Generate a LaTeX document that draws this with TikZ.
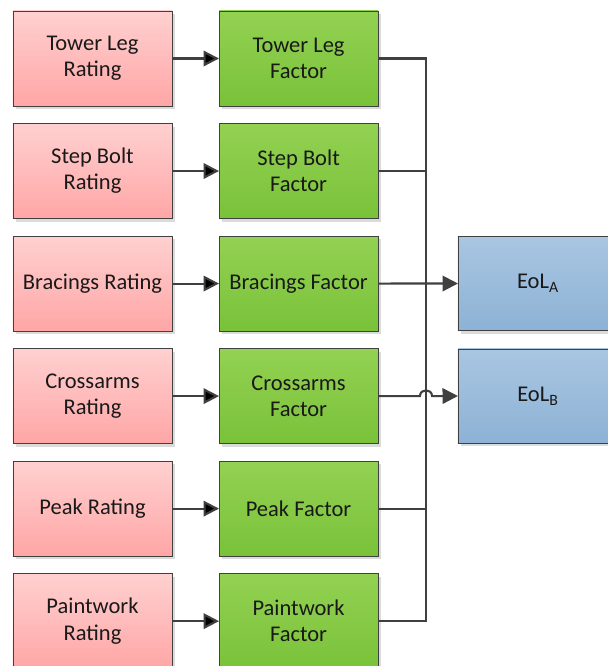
\documentclass[tikz,border=0pt]{standalone}
\usepackage{fontspec}
\setmainfont{Carlito}
\usetikzlibrary{positioning,arrows.meta,shadows}
\definecolor{edgegray}{HTML}{404040}
\definecolor{redtop}{HTML}{FFD0D0}
\definecolor{redbot}{HTML}{FFA6A6}
\definecolor{greentop}{HTML}{93D152}
\definecolor{greenbot}{HTML}{7AC23A}
\definecolor{bluetop}{HTML}{A9C6E2}
\definecolor{bluebot}{HTML}{8DB2D5}
\tikzset{box node/.style={rectangle,draw=edgegray,line width=0.6pt,outer sep=0pt,minimum width=3.975cm,minimum height=2.375cm,align=center,inner sep=2pt,text=black!90,font=\fontsize{16}{18.6}\selectfont,drop shadow={shadow xshift=2.2pt,shadow yshift=-2.2pt,fill=black!14,opacity=1}},
rating node/.style={box node,top color=redtop,bottom color=redbot},
factor node/.style={box node,top color=greentop,bottom color=greenbot},
eol node/.style={box node,minimum width=4cm,minimum height=2.35cm,top color=bluetop,bottom color=bluebot},
link/.style={draw=edgegray,line width=1.5pt,-{Triangle[length=11pt,width=11pt]}},
bus/.style={draw=edgegray,line width=1.5pt},
}
\begin{document}
\begin{tikzpicture}[x=0.025cm,y=-0.025cm]
				\useasboundingbox (0,0) rectangle (607,666);
				\node[rating node] (R1) at (92.5,58.5) {Tower Leg\\Rating};
				\node[rating node] (R2) [below =0.4375cm of R1] {Step Bolt\\Rating};
				\node[rating node] (R3) [below =0.4375cm of R2] {Bracings Rating};
				\node[rating node] (R4) [below =0.4375cm of R3] {Crossarms\\Rating};
				\node[rating node] (R5) [below =0.4375cm of R4] {Peak Rating};
				\node[rating node] (R6) [below =0.4375cm of R5] {Paintwork\\Rating};
				
				\node[factor node] (F1) [right =1.175cm of R1] {Tower Leg\\Factor};
				\node[factor node] (F2) [right =1.175cm of R2] {Step Bolt\\Factor};
				\node[factor node] (F3) [right =1.175cm of R3] {Bracings Factor};
				\node[factor node] (F4) [right =1.175cm of R4] {Crossarms\\Factor};
				\node[factor node] (F5) [right =1.175cm of R5] {Peak Factor};
				\node[factor node] (F6) [right =1.175cm of R6] {Paintwork\\Factor};
				
				\node[eol node] (EA) at (538,283.5) {EoL\textsubscript{A}};
				\node[eol node] (EB) at (538,396) {EoL\textsubscript{B}};
				
				\coordinate (X) at (426,0);
				
				\path[link]
				(R1) edge (F1)
				(R2) edge (F2)
				(R3) edge (F3)
				(R4) edge (F4)
				(R5) edge (F5)
				(R6) edge (F6);
				
				% collecting line
				\draw[bus] (F1.east) -- (F1.east -| X) -- (F6.east -| X) -- (F6.east);
				\draw[bus] (F2.east) -- (F2.east -| X);
				\draw[bus] (F5.east) -- (F5.east -| X);
				
				\draw[link] (F3.east) -- (EA.west);
				\draw[link] (F4.east) -- ([xshift=-0.15cm]F4.east -| X) .. controls +(0pt,5.5pt) and +(0pt,5.5pt) .. ([xshift=0.15cm]F4.east -| X) -- (EB.west);
				
			\end{tikzpicture}
\end{document}
